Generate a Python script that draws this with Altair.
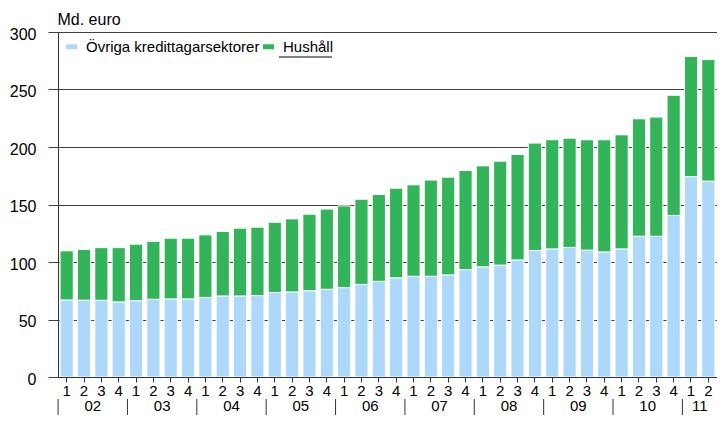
import altair as alt
import pandas as pd

# ---- data ----
years = ["02", "03", "04", "05", "06", "07", "08", "09", "10", "11"]
quarters_per_year = [4, 4, 4, 4, 4, 4, 4, 4, 4, 2]

ovriga = [67.0, 66.8, 66.7, 65.3, 66.4, 67.6, 67.9, 67.9, 69.2, 70.5,
          70.5, 70.8, 73.5, 74.0, 75.0, 76.3, 77.7, 80.5, 83.2, 86.2,
          87.6, 87.6, 88.8, 93.4, 95.8, 97.3, 101.8, 110.0, 111.4, 112.7,
          110.3, 108.8, 111.4, 122.4, 122.4, 140.5, 174.2, 170.3]
hushall = [42.7, 44.2, 45.8, 47.2, 49.1, 50.4, 52.8, 52.8, 54.4, 56.0,
           58.9, 59.5, 61.1, 63.5, 66.6, 69.7, 71.1, 74.1, 75.5, 78.0,
           79.5, 83.6, 85.0, 86.2, 87.8, 90.4, 91.7, 93.4, 94.9, 95.0,
           96.0, 97.5, 99.2, 102.1, 103.6, 104.5, 104.6, 105.7]

series_names = ["Övriga kredittagarsektorer", "Hushåll"]
series_colors = ["#ADD8F9", "#33B35A"]
y_ticks = [0, 50, 100, 150, 200, 250, 300]

# ---- tables ----
keys = []
for yr, n in zip(years, quarters_per_year):
    for q in range(1, n + 1):
        keys.append(f"20{yr}Q{q}")

rows = []
for i, k in enumerate(keys):
    rows.append({"key": k, "series": series_names[0], "value": ovriga[i], "ord": 0})
    rows.append({"key": k, "series": series_names[1], "value": hushall[i], "ord": 1})
df = pd.DataFrame(rows)

year_df = pd.DataFrame([
    {"key": f"20{yr}Q3" if n == 4 else f"20{yr}Q2", "label": yr}
    for yr, n in zip(years, quarters_per_year)
])
sep_df = pd.DataFrame([{"key": f"20{yr}Q1"} for yr in years])

W, H = 659, 345
FONT = "Liberation Sans"
DARK = "#333333"

xscale = alt.Scale(domain=keys, paddingInner=0.24, paddingOuter=0.12)
xaxis = alt.Axis(title=None, labelExpr="substring(datum.value, 5, 6)",
                 labelAngle=0, tickSize=5, tickColor=DARK, domainColor=DARK,
                 labelFontSize=15, labelPadding=1, labelColor="#000",
                 labelOverlap=False, grid=False, zindex=1)

bars = alt.Chart(df).mark_bar(stroke="white", strokeWidth=1).encode(
    x=alt.X("key:N", scale=xscale, sort=keys, axis=xaxis),
    y=alt.Y("value:Q", stack="zero",
            scale=alt.Scale(domain=[0, 300], nice=False),
            axis=alt.Axis(values=y_ticks, grid=True, gridColor="#404040", gridWidth=1,
                          tickSize=10, tickColor="#404040", domainColor=DARK,
                          labelFontSize=16, labelPadding=12, labelColor="#000",
                          labelOffset=2,
                          title="Md. euro", titleAngle=0, titleAlign="left",
                          titleBaseline="alphabetic", titleX=-1, titleY=-8,
                          titleFontSize=16, titleFontWeight="normal", titleColor="#000")),
    color=alt.Color("series:N",
                    scale=alt.Scale(domain=series_names, range=series_colors),
                    legend=alt.Legend(title=None, orient="none", direction="horizontal",
                                      legendX=6, legendY=7,
                                      symbolType="M-1,-0.45L1,-0.45L1,0.45L-1,0.45Z",
                                      symbolSize=121, symbolStrokeWidth=0,
                                      labelFontSize=15, labelColor="#000", labelLimit=0,
                                      labelFont=FONT,
                                      labelOffset=7, columnPadding=1, padding=0)),
    order=alt.Order("ord:Q"),
)

year_labels = alt.Chart(year_df).mark_text(
    baseline="top", align="center", fontSize=15, font=FONT, color="#000", xOffset=-2
).encode(
    x=alt.X("key:N", scale=xscale, sort=keys, axis=xaxis, bandPosition=0),
    y=alt.value(H + 22),
    text="label:N",
)

separators = alt.Chart(sep_df).mark_rule(color=DARK, strokeWidth=1, xOffset=-2).encode(
    x=alt.X("key:N", scale=xscale, sort=keys, axis=xaxis, bandPosition=0),
    y=alt.value(H + 22),
    y2=alt.value(H + 40),
)

underline = alt.Chart(pd.DataFrame([{"a": 1}])).mark_rule(color="#000", strokeWidth=1).encode(
    x=alt.value(221), x2=alt.value(274), y=alt.value(25),
)

chart = alt.layer(bars, year_labels, separators, underline).properties(
    width=W, height=H,
    autosize=alt.AutoSizeParams(type="none"),
    padding={"left": 50, "top": 24, "right": 0, "bottom": 38},
).configure_view(stroke=None).configure(font=FONT)

chart.save("out.html", embed_options={"renderer": "svg", "actions": False})
